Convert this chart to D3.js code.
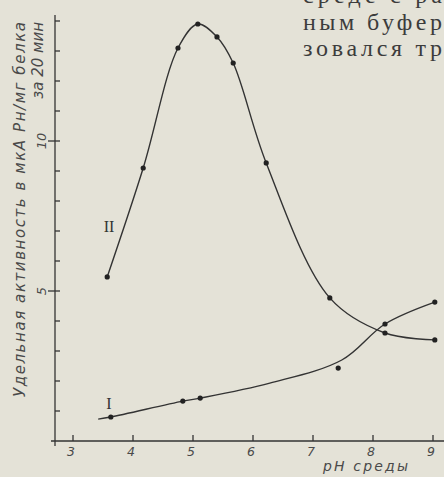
<!DOCTYPE html>
<html>
<head>
<meta charset="utf-8">
<script src="https://cdn.jsdelivr.net/npm/d3@7"></script>
<style>
  body { margin: 0; background: #e4e2d7; }
  svg { display: block; }
</style>
</head>
<body>
<script>
// pH values and specific activity
var phII  = [3.57, 4.17, 4.75, 5.08, 5.4, 5.67, 6.22, 7.28, 8.2, 9.03];
var actII = [5.47, 9.1, 13.1, 13.9, 13.47, 12.6, 9.27, 4.77, 3.6, 3.37];

var phI  = [3.63, 4.83, 5.12, 7.42, 8.2, 9.03];
var actI = [0.8, 1.33, 1.43, 2.43, 3.9, 4.63];

// drawn (smoothed) line for curve I, it does not pass through every point
var lineIph  = [3.42, 3.63, 4.83, 5.12, 6.28, 7.48, 8.2, 9.03];
var lineIact = [0.73, 0.8, 1.33, 1.43, 1.93, 2.7, 3.9, 4.63];

var xTicks = [3, 4, 5, 6, 7, 8, 9];
var yMinor = d3.range(1, 15);
var yLabeled = [5, 10];

var W = 444, H = 477;
var ink = "#333";

var svg = d3.select("body").append("svg")
    .attr("width", W)
    .attr("height", H);

var x = d3.scaleLinear().domain([3, 9]).range([73, 433]);
var y = d3.scaleLinear().domain([0, 14]).range([441, 21]);

// ****************** book text on the right ******************
var bookText = svg.append("g")
    .attr("font-family", "Liberation Serif, DejaVu Serif, serif")
    .attr("font-size", 24)
    .attr("fill", "#3c3c3c");
bookText.append("text").attr("x", 303).attr("y", 3).attr("textLength", 139).text("среде с ра");
bookText.append("text").attr("x", 303).attr("y", 30).attr("textLength", 139).text("ным буфер");
bookText.append("text").attr("x", 303).attr("y", 56).attr("textLength", 139).text("зовался тр");

// ****************** axes ******************
var axes = svg.append("g")
    .attr("stroke", ink)
    .attr("stroke-width", 1.3)
    .attr("fill", "none");

// y axis line
axes.append("line")
    .attr("x1", 55).attr("x2", 55)
    .attr("y1", 15).attr("y2", 446);
// x axis line
axes.append("line")
    .attr("x1", 51).attr("x2", W)
    .attr("y1", y(0)).attr("y2", y(0));

// x ticks point up
axes.selectAll("line.xt")
    .data(xTicks)
  .enter().append("line")
    .attr("class", "xt")
    .attr("x1", function(d) { return x(d); })
    .attr("x2", function(d) { return x(d); })
    .attr("y1", y(0) - 6)
    .attr("y2", y(0));

// y ticks point right, labeled ones cross the axis
axes.selectAll("line.yt")
    .data(yMinor)
  .enter().append("line")
    .attr("class", "yt")
    .attr("x1", function(d) { return yLabeled.includes(d) ? 48 : 55; })
    .attr("x2", 60)
    .attr("y1", function(d) { return y(d); })
    .attr("y2", function(d) { return y(d); });

var labels = svg.append("g")
    .attr("font-family", "DejaVu Sans, sans-serif")
    .attr("fill", "#4a4a4a");

labels.selectAll("text.xl")
    .data(xTicks)
  .enter().append("text")
    .attr("class", "xl")
    .attr("x", function(d) { return x(d) - 2; })
    .attr("y", 456)
    .attr("text-anchor", "middle")
    .attr("font-size", 12.5)
    .attr("font-style", "italic")
    .text(function(d) { return d; });

labels.selectAll("text.yl")
    .data(yLabeled)
  .enter().append("text")
    .attr("class", "yl")
    .attr("transform", function(d) {
      return "translate(" + 46 + "," + y(d) + ") rotate(-90)";
    })
    .attr("text-anchor", "middle")
    .attr("font-size", 13)
    .attr("font-style", "italic")
    .text(function(d) { return d; });

labels.append("text")
    .attr("x", 323).attr("y", 471)
    .attr("font-size", 14)
    .attr("font-style", "italic")
    .attr("textLength", 85)
    .text("pH среды");

labels.append("text")
    .attr("transform", "translate(25,22) rotate(-90)")
    .attr("text-anchor", "end")
    .attr("font-size", 15)
    .attr("font-style", "italic")
    .attr("textLength", 375)
    .text("Удельная активность в мкА Рн/мг белка");

labels.append("text")
    .attr("transform", "translate(43,22) rotate(-90)")
    .attr("text-anchor", "end")
    .attr("font-size", 15)
    .attr("font-style", "italic")
    .text("за 20 мин");

// ****************** curves ******************
var line = d3.line()
    .x(function(d) { return x(d[0]); })
    .y(function(d) { return y(d[1]); })
    .curve(d3.curveCatmullRom.alpha(0.5));

var ptsII = d3.zip(phII, actII);
var ptsI = d3.zip(phI, actI);
var lineI = d3.zip(lineIph, lineIact);

svg.append("path")
    .attr("d", line(ptsII))
    .attr("fill", "none")
    .attr("stroke", ink)
    .attr("stroke-width", 1.4);

svg.append("path")
    .attr("d", line(lineI))
    .attr("fill", "none")
    .attr("stroke", ink)
    .attr("stroke-width", 1.4);

svg.selectAll("circle.p")
    .data(ptsII.concat(ptsI))
  .enter().append("circle")
    .attr("class", "p")
    .attr("cx", function(d) { return x(d[0]); })
    .attr("cy", function(d) { return y(d[1]); })
    .attr("r", 2.6)
    .attr("fill", "#222");

// curve names
var names = svg.append("g")
    .attr("font-family", "Liberation Serif, DejaVu Serif, serif")
    .attr("font-size", 16)
    .attr("fill", "#333")
    .attr("text-anchor", "middle");
names.append("text").attr("x", 109).attr("y", 232).text("II");
names.append("text").attr("x", 109).attr("y", 409).text("I");
</script>
</body>
</html>
